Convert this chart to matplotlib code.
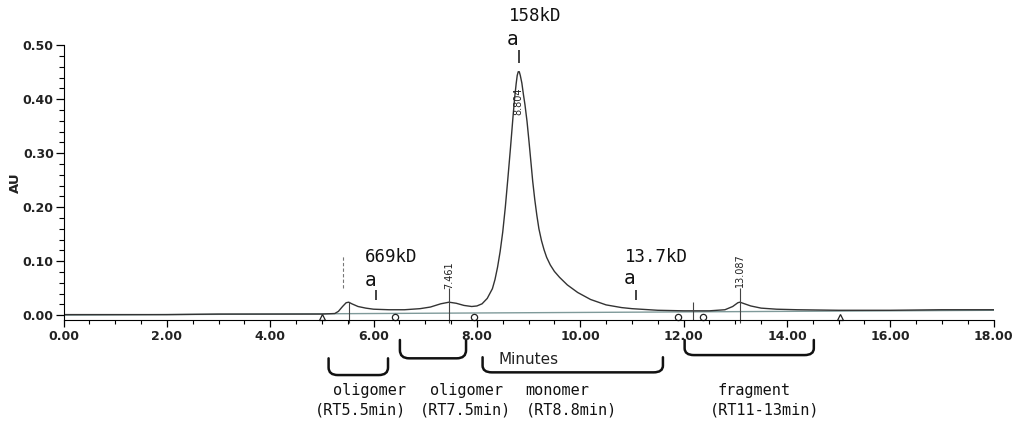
import matplotlib
matplotlib.use("Agg")
import matplotlib.pyplot as plt
from matplotlib.path import Path
from matplotlib.patches import PathPatch
from matplotlib.ticker import MultipleLocator, FormatStrFormatter

# chromatogram trace (minutes, AU)
trace_t = [0.0, 1.0, 2.0, 3.0, 4.0, 5.0, 5.25, 5.32, 5.40, 5.47, 5.52, 5.58,
           5.70, 5.85, 6.0, 6.3, 6.6, 6.9, 7.1, 7.3, 7.46, 7.6, 7.75, 7.9,
           8.0, 8.1, 8.2, 8.3, 8.35, 8.4, 8.45, 8.5, 8.55, 8.6, 8.65, 8.7,
           8.73, 8.76, 8.78, 8.80, 8.82, 8.84, 8.87, 8.9, 8.93, 8.97, 9.01,
           9.05, 9.08, 9.12, 9.16, 9.2, 9.25, 9.3, 9.35, 9.42, 9.5, 9.6, 9.75,
           9.95, 10.2, 10.5, 10.8, 11.0, 11.5, 12.0, 12.5, 12.8, 12.95, 13.05,
           13.09, 13.15, 13.3, 13.5, 13.8, 14.2, 15.0, 16.0, 17.0, 18.0]
trace_au = [0.001, 0.001, 0.001, 0.002, 0.002, 0.002, 0.003, 0.007, 0.016,
            0.023, 0.024, 0.021, 0.016, 0.013, 0.011, 0.010, 0.010, 0.012,
            0.015, 0.021, 0.024, 0.022, 0.018, 0.016, 0.017, 0.021, 0.031,
            0.049, 0.066, 0.089, 0.118, 0.154, 0.200, 0.254, 0.310, 0.369,
            0.402, 0.429, 0.444, 0.451, 0.451, 0.444, 0.430, 0.409, 0.390,
            0.359, 0.320, 0.279, 0.248, 0.214, 0.185, 0.160, 0.138, 0.121,
            0.107, 0.093, 0.081, 0.070, 0.056, 0.042, 0.029, 0.019, 0.014,
            0.012, 0.009, 0.008, 0.008, 0.010, 0.016, 0.023, 0.024, 0.022,
            0.017, 0.013, 0.011, 0.010, 0.009, 0.009, 0.010, 0.010]
baseline_t = [0.0, 18.0]
baseline_au = [0.0, 0.009]

# labelled peaks (retention time, label height)
peak_labels = ["7.461", "8.804", "13.087"]
peak_times = [7.461, 8.804, 13.087]
peak_label_au = [0.074, 0.396, 0.083]

# integration marks on the baseline
tri_times = [5.01, 15.02]
circle_times = [6.41, 7.94, 11.9, 12.37]

# molecular weight standards
std_labels = ["669kD", "158kD", "13.7kD"]
std_times = [6.04, 8.81, 11.07]
std_tick_au = [(0.028, 0.046), (0.468, 0.491), (0.028, 0.046)]

# fractions below the axis
frac_names = ["oligomer", "oligomer", "monomer", "fragment"]
frac_rt = ["(RT5.5min)", "(RT7.5min)", "(RT8.8min)", "(RT11-13min)"]
frac_ranges = [(5.13, 6.28), (6.51, 7.79), (8.11, 11.60), (12.02, 14.52)]
frac_depth = [(-0.080, -0.111), (-0.046, -0.080), (-0.078, -0.106), (-0.046, -0.074)]
frac_name_x = [5.93, 7.79, 9.55, 13.37]
frac_rt_x = [5.75, 7.77, 9.84, 13.57]

fig = plt.figure(figsize=(10.16, 4.23), dpi=100)
ax = fig.add_axes([0.0625, 0.2435, 0.9155, 0.6501])

ax.plot(baseline_t, baseline_au, color="#7f9a9a", lw=1.0)
ax.plot(trace_t, trace_au, color="#333333", lw=1.0)

for s in ["top", "right"]:
    ax.spines[s].set_visible(False)
ax.xaxis.set_major_locator(MultipleLocator(2))
ax.xaxis.set_minor_locator(MultipleLocator(0.5))
ax.yaxis.set_major_locator(MultipleLocator(0.1))
ax.yaxis.set_minor_locator(MultipleLocator(0.02))
ax.xaxis.set_major_formatter(FormatStrFormatter("%.2f"))
ax.yaxis.set_major_formatter(FormatStrFormatter("%.2f"))
ax.set_xlim(0, 18)
ax.set_ylim(-0.009, 0.5005)
ax.tick_params(axis="x", which="major", length=5, width=0.9, pad=2,
               labelsize=9, labelcolor="#222222")
ax.tick_params(axis="x", which="minor", length=3, width=0.8)
ax.tick_params(axis="y", which="major", length=5.5, width=0.9, pad=1.5,
               labelsize=9, labelcolor="#222222")
ax.tick_params(axis="y", which="minor", length=3.5, width=0.8)
for lab in ax.get_xticklabels() + ax.get_yticklabels():
    lab.set_fontweight("bold")
fig.text(0.0148, 0.567, "AU", rotation=90, ha="center", va="center",
         fontsize=9.5, fontweight="bold", color="#222222")
ax.text(9.0, -0.0815, "Minutes", ha="center", va="center", fontsize=11,
        color="#222222", clip_on=False)

# peak labels and drop lines
for lab, t, y in zip(peak_labels, peak_times, peak_label_au):
    ax.text(t, y, lab, rotation=90, ha="center", va="center", fontsize=7,
            color="#222222")
ax.vlines([7.461, 13.087], 0.05, -0.015, color="#444444", lw=0.8, clip_on=False)
ax.vlines([5.52], 0.024, -0.015, color="#444444", lw=0.8, clip_on=False)
ax.vlines([12.18], 0.024, -0.009, color="#444444", lw=0.8, clip_on=False)
ax.vlines([5.40], 0.05, 0.111, color="#777777", lw=0.8, linestyles=(0, (3, 2)))

ax.plot(tri_times, [-0.004] * len(tri_times), ls="none", marker="^", ms=4.5,
        mfc="white", mec="#222222", mew=0.9, clip_on=False)
ax.plot(circle_times, [-0.004] * len(circle_times), ls="none", marker="o", ms=4.5,
        mfc="white", mec="#222222", mew=0.9, clip_on=False)

# standards
mono = "DejaVu Sans Mono"
std_label_pos = [(6.34, 0.107), (9.12, 0.554), (11.48, 0.107)]
std_a_pos = [(5.95, 0.065), (8.69, 0.511), (10.96, 0.067)]
for lab, t, (y0, y1), (lx, ly), (axp, ayp) in zip(std_labels, std_times, std_tick_au,
                                                  std_label_pos, std_a_pos):
    ax.vlines(t, y0, y1, color="#222222", lw=1.2, clip_on=False)
    ax.text(lx, ly, lab, ha="center", va="center", fontsize=12.5,
            family=mono, color="#111111", clip_on=False)
    ax.text(axp, ayp, "a", ha="center", va="center", fontsize=14,
            family=mono, color="#111111", clip_on=False)

# fraction brackets
for (x0, x1), (yt, yb) in zip(frac_ranges, frac_depth):
    rx, ry = 0.18, (yt - yb) * 0.45
    verts = [(x0, yt), (x0, yb + ry), (x0, yb), (x0 + rx, yb),
             (x1 - rx, yb), (x1, yb), (x1, yb + ry), (x1, yt)]
    codes = [Path.MOVETO, Path.LINETO, Path.CURVE3, Path.CURVE3,
             Path.LINETO, Path.CURVE3, Path.CURVE3, Path.LINETO]
    ax.add_patch(PathPatch(Path(verts, codes), fill=False, lw=1.8,
                           edgecolor="#111111", capstyle="round", clip_on=False))

for name, rt, nx, rtx in zip(frac_names, frac_rt, frac_name_x, frac_rt_x):
    ax.text(nx, -0.139, name, ha="center", va="center", fontsize=11,
            family=mono, color="#111111", clip_on=False)
    ax.text(rtx, -0.176, rt, ha="center", va="center", fontsize=11,
            family=mono, color="#111111", clip_on=False)

fig.savefig("out.png", dpi=100)
